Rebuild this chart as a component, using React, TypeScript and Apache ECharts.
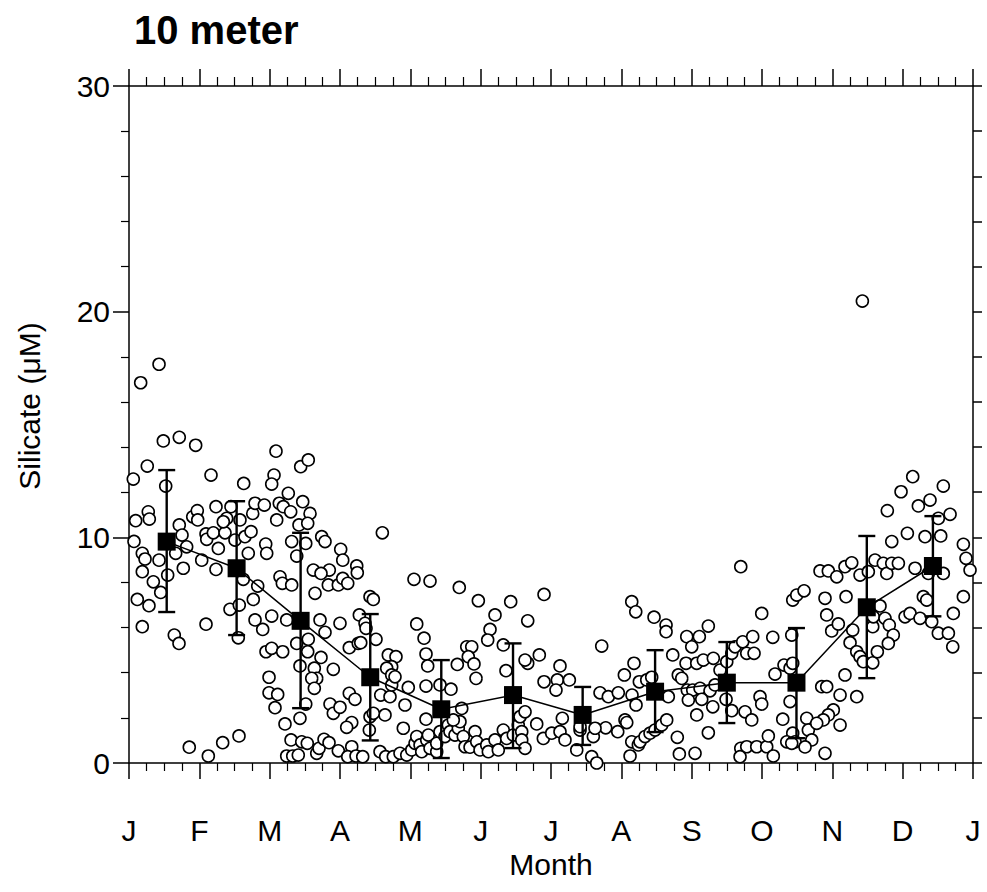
import React, { useEffect, useRef } from "react";
import * as echarts from "echarts";

const FONT = "Liberation Sans, Arial, Helvetica, sans-serif";

const TITLE = "10 meter";
const X_NAME = "Month";
const Y_NAME = "Silicate (\u03bcM)";
const MONTH_LABELS = ["J", "F", "M", "A", "M", "J", "J", "A", "S", "O", "N", "D", "J"];

// Observations: [month (0 = 1 Jan, 12 = end of Dec), silicate µM]
const OBS_JAN_MAR: [number, number][] = [
  [0.166, 16.85], [0.427, 17.67], [0.488, 14.27], [0.715, 14.43], [0.948, 14.08], [0.26, 13.16], [0.061, 12.58], [0.522, 12.27],
  [1.166, 12.76], [1.631, 12.39], [2.09, 13.82], [2.062, 12.76], [2.029, 12.36], [2.441, 13.13], [2.549, 13.43], [0.095, 10.74],
  [0.274, 11.13], [0.289, 10.81], [0.071, 9.82], [0.189, 9.29], [0.228, 9.04], [0.189, 8.48], [0.346, 8.03], [0.451, 7.56],
  [0.118, 7.25], [0.284, 6.97], [0.189, 6.04], [0.427, 8.99], [0.55, 8.33], [0.664, 9.29], [0.715, 10.55], [0.754, 10.1],
  [0.82, 9.58], [0.772, 8.63], [0.906, 10.91], [0.971, 11.18], [0.977, 10.77], [1.034, 8.99], [1.095, 10.15], [1.105, 9.91],
  [1.199, 10.2], [1.237, 11.36], [1.237, 8.58], [1.27, 9.51], [1.365, 10.2], [1.389, 10.84], [1.341, 10.69], [1.45, 11.36],
  [1.507, 9.88], [1.578, 10.77], [1.649, 10.03], [1.735, 10.25], [1.759, 11.06], [1.792, 11.51], [1.924, 11.43], [1.696, 9.29],
  [1.625, 8.14], [1.436, 6.81], [1.568, 7.0], [1.767, 7.25], [1.83, 7.84], [1.792, 6.34], [1.901, 5.92], [2.029, 6.51],
  [1.944, 9.7], [1.958, 9.29], [2.1, 10.77], [2.137, 11.51], [2.194, 11.36], [2.265, 11.95], [2.299, 11.13], [2.47, 11.58],
  [2.574, 11.06], [2.417, 10.55], [2.541, 10.62], [2.313, 9.81], [2.385, 9.17], [2.513, 9.73], [2.147, 8.25], [2.18, 7.96],
  [2.313, 7.89], [2.242, 6.34], [2.621, 8.55], [2.645, 7.52], [2.716, 6.34], [2.74, 10.03], [2.787, 9.81], [2.848, 8.55],
  [2.73, 8.4], [2.834, 7.89], [2.976, 7.89], [0.644, 5.67], [0.711, 5.3], [1.095, 6.15], [1.554, 5.55], [2.787, 5.79],
  [2.385, 5.3], [2.549, 5.48], [2.541, 4.93], [1.948, 4.93], [2.029, 5.08], [2.185, 4.93], [2.431, 4.3], [2.73, 4.68],
  [2.635, 4.2], [2.669, 3.75], [2.598, 3.75], [2.635, 3.31], [2.905, 4.15], [1.991, 3.8], [1.991, 3.11], [2.114, 3.04],
  [2.076, 2.45], [2.513, 2.61], [2.431, 1.98], [2.218, 1.73], [2.858, 2.61], [2.905, 2.2], [0.857, 0.7], [1.128, 0.31],
  [1.332, 0.9], [1.564, 1.2], [2.304, 1.02], [2.456, 0.94], [2.535, 0.87], [2.242, 0.31], [2.328, 0.31], [2.407, 0.35],
  [2.669, 0.43], [2.702, 0.65], [2.773, 1.05], [2.844, 0.9], [2.976, 0.54],
];

const OBS_APR_JUN: [number, number][] = [
  [3.01, 9.47], [3.039, 8.99], [3.039, 8.18], [3.11, 7.96], [3.238, 8.73], [3.246, 8.43], [3.0, 6.19], [3.275, 6.56],
  [3.427, 7.37], [3.356, 6.19], [3.132, 5.11], [3.26, 5.3], [3.0, 2.47], [3.132, 3.09], [3.213, 2.82], [3.167, 1.79],
  [3.095, 1.58], [3.167, 0.72], [3.11, 0.28], [3.228, 0.31], [3.602, 10.2], [4.052, 8.14], [4.28, 8.06], [4.696, 7.78],
  [3.474, 7.25], [4.967, 7.19], [5.427, 7.15], [5.901, 7.47], [3.37, 5.97], [3.295, 5.33], [3.512, 5.48], [4.091, 6.16],
  [4.195, 5.53], [4.223, 4.83], [4.247, 4.3], [5.204, 6.56], [5.133, 5.92], [5.1, 5.45], [5.322, 5.23], [5.669, 6.3],
  [5.834, 4.79], [5.669, 4.42], [5.631, 4.56], [4.802, 5.15], [4.873, 5.15], [4.824, 4.71], [4.905, 4.39], [4.934, 3.75],
  [4.668, 4.37], [5.36, 4.09], [3.687, 4.79], [3.796, 4.71], [3.735, 4.27], [3.664, 4.2], [3.735, 3.9], [3.971, 3.35],
  [3.579, 3.01], [3.711, 2.94], [3.64, 2.13], [3.924, 2.57], [4.223, 3.41], [4.422, 3.46], [4.578, 3.27], [4.731, 2.42],
  [4.223, 1.94], [5.901, 3.6], [5.797, 1.73], [3.323, 0.28], [3.427, 2.05], [3.417, 1.46], [3.474, 2.2], [3.735, 3.46],
  [3.782, 3.82], [3.9, 1.54], [3.569, 0.5], [3.65, 0.28], [3.758, 0.28], [3.853, 0.43], [3.949, 0.35], [4.02, 0.58],
  [4.067, 0.87], [4.091, 1.17], [4.138, 0.8], [4.233, 1.02], [4.256, 1.24], [4.162, 0.5], [4.28, 0.65], [4.375, 0.5],
  [4.375, 0.87], [4.422, 1.39], [4.493, 1.17], [4.54, 1.68], [4.564, 1.39], [4.635, 1.24], [4.682, 1.54], [4.706, 1.83],
  [4.611, 1.91], [4.753, 1.17], [4.778, 0.72], [4.849, 0.7], [4.92, 1.39], [4.944, 0.94], [4.991, 0.58], [5.086, 0.8],
  [5.109, 0.5], [5.204, 1.02], [5.251, 0.58], [5.322, 1.46], [5.37, 1.09], [5.464, 1.24], [5.535, 1.68], [5.584, 1.39],
  [5.584, 1.02], [5.631, 0.65], [5.56, 2.05], [5.631, 2.27], [5.891, 1.09],
];

const OBS_JUL_SEP: [number, number][] = [
  [6.721, 5.18], [7.148, 7.15], [7.205, 6.7], [6.09, 3.68], [6.261, 3.68], [6.128, 4.3], [6.071, 3.23], [6.161, 1.98],
  [6.697, 3.11], [6.815, 2.94], [6.957, 3.11], [7.152, 3.01], [7.043, 3.9], [7.18, 4.42], [6.778, 1.56], [6.949, 1.39],
  [7.052, 1.91], [7.077, 1.79], [6.602, 1.17], [6.366, 0.58], [6.579, 0.28], [6.65, 0.0], [6.413, 1.46], [7.148, 0.94],
  [7.124, 0.31], [7.242, 0.8], [6.01, 1.32], [6.128, 1.39], [6.199, 1.02], [6.413, 1.61], [6.626, 1.54], [7.465, 6.46],
  [7.636, 6.11], [7.636, 5.82], [7.256, 3.6], [7.361, 3.68], [7.432, 3.8], [7.209, 2.57], [7.266, 0.94], [7.337, 1.17],
  [7.408, 1.32], [7.479, 1.46], [7.574, 1.68], [7.645, 1.91], [7.668, 2.94], [7.731, 4.79], [7.81, 3.9], [7.859, 3.75],
  [7.92, 4.42], [8.072, 4.42], [8.166, 4.56], [8.308, 4.64], [7.93, 5.6], [8.001, 5.15], [8.109, 5.6], [8.237, 6.07],
  [7.938, 3.23], [8.015, 3.23], [8.119, 3.31], [8.261, 3.2], [8.332, 3.46], [7.953, 2.79], [8.143, 2.82], [8.3, 2.49],
  [8.072, 2.13], [8.237, 1.34], [7.796, 1.14], [7.825, 0.4], [8.048, 0.43], [8.403, 4.12], [8.499, 4.49], [8.57, 4.86],
  [8.617, 5.15], [8.726, 5.37], [8.783, 4.86], [8.868, 5.6], [8.887, 4.86], [8.489, 2.82], [8.57, 2.32], [8.759, 2.27],
  [8.854, 1.91], [8.972, 2.94], [8.996, 2.61], [8.698, 0.65], [8.783, 0.72], [8.925, 0.72], [8.688, 0.28], [8.996, 6.63],
  [8.698, 8.7],
];

const OBS_OCT_DEC: [number, number][] = [
  [9.067, 0.72], [9.09, 1.2], [9.161, 0.31], [9.153, 5.57], [9.185, 3.94], [9.313, 4.34], [9.399, 4.2], [9.437, 4.42],
  [9.295, 1.94], [9.399, 2.72], [9.437, 1.32], [9.47, 0.94], [9.636, 1.98], [9.659, 1.46], [9.707, 1.02], [9.352, 0.94],
  [9.423, 0.87], [9.437, 7.22], [9.494, 7.44], [9.598, 7.63], [9.423, 5.67], [9.849, 3.38], [9.92, 3.38], [9.896, 0.43],
  [10.11, 3.01], [10.347, 2.94], [10.18, 3.9], [10.11, 1.68], [10.014, 2.35], [9.943, 2.13], [9.872, 1.91], [9.778, 1.76],
  [9.896, 7.3], [9.92, 6.56], [9.991, 5.85], [10.085, 6.16], [10.195, 7.37], [9.825, 8.51], [9.943, 8.51], [10.063, 8.25],
  [10.18, 8.7], [10.276, 8.87], [10.394, 8.33], [10.512, 8.48], [10.607, 8.99], [10.725, 8.85], [10.774, 8.4], [10.845, 8.85],
  [10.939, 8.85], [10.252, 5.33], [10.29, 5.89], [10.347, 4.93], [10.394, 4.71], [10.441, 4.49], [10.575, 4.44], [10.64, 4.93],
  [10.575, 6.04], [10.583, 6.48], [10.678, 6.96], [10.749, 6.41], [10.81, 6.11], [10.867, 5.67], [10.796, 5.3], [10.782, 11.18],
  [10.845, 9.81], [11.067, 10.18], [11.318, 10.03], [11.541, 10.06], [11.223, 11.39], [11.389, 11.65], [11.507, 10.84], [11.674, 11.02],
  [11.176, 8.63], [11.365, 8.4], [11.578, 8.4], [11.294, 7.37], [11.342, 7.22], [11.863, 7.37], [11.72, 6.63], [11.034, 6.48],
  [11.105, 6.63], [11.247, 6.41], [11.413, 6.26], [11.507, 5.75], [11.65, 5.75], [11.712, 5.15], [11.863, 9.69], [11.901, 9.07],
  [11.958, 8.55], [10.427, 20.47], [11.143, 12.69], [10.977, 12.02], [11.578, 12.27], [9.612, 0.71],
];

// Monthly means with error bars
const MEAN_MONTH = [0.536, 1.53, 2.44, 3.43, 4.44, 5.46, 6.45, 7.48, 8.5, 9.49, 10.49, 11.43];
const MEAN_SI = [9.81, 8.63, 6.3, 3.8, 2.38, 3.01, 2.13, 3.16, 3.56, 3.56, 6.9, 8.73];
const ERR_HIGH = [12.98, 11.6, 10.2, 6.6, 4.56, 5.3, 3.37, 5.0, 5.36, 5.98, 10.06, 10.94];
const ERR_LOW = [6.69, 5.67, 2.43, 1.0, 0.22, 0.66, 0.8, 1.37, 1.77, 1.1, 3.76, 6.5];

const X_MIN = 0;
const X_MAX = 12;
const Y_MIN = 0;
const Y_MAX = 30;

export default function App() {
  const ref = useRef<HTMLDivElement>(null);

  useEffect(() => {
    if (!ref.current) return;
    const chart = echarts.init(ref.current, null, { renderer: "svg" });

    const obs = [...OBS_JAN_MAR, ...OBS_APR_JUN, ...OBS_JUL_SEP, ...OBS_OCT_DEC];
    const means = MEAN_MONTH.map((m, i) => [m, MEAN_SI[i]]);
    const errs = MEAN_MONTH.map((m, i) => [m, ERR_LOW[i], ERR_HIGH[i]]);

    const black = "#000";
    const lineW = 1.5;
    const tickStyle = { color: black, width: lineW };

    const option: any = {
      animation: false,
      backgroundColor: "#fff",
      textStyle: { fontFamily: FONT, color: black },
      title: {
        text: TITLE,
        left: 129,
        top: 5,
        textStyle: { fontFamily: FONT, fontSize: 40, fontWeight: "bold", color: black },
      },
      graphic: [
        {
          type: "text",
          x: 29,
          y: 406,
          rotation: Math.PI / 2,
          silent: true,
          style: {
            text: Y_NAME,
            fontSize: 30,
            fontFamily: FONT,
            fill: black,
            align: "center",
            verticalAlign: "middle",
            textAlign: "center",
            textVerticalAlign: "middle",
          },
        },
      ],
      grid: { left: 129, top: 86, width: 844, height: 677, containLabel: false },
      xAxis: [
        {
          type: "value",
          position: "bottom",
          min: X_MIN,
          max: X_MAX,
          interval: 1,
          axisLine: { show: true, onZero: false, lineStyle: tickStyle },
          axisTick: { show: true, inside: false, length: 16, lineStyle: tickStyle },
          minorTick: { show: true, splitNumber: 4, length: 8, lineStyle: { color: black, width: 1.2 } },
          splitLine: { show: false },
          axisLabel: {
            show: true,
            margin: 52,
            fontSize: 30,
            fontFamily: FONT,
            color: black,
            showMinLabel: true,
            showMaxLabel: true,
            formatter: (v: number) => MONTH_LABELS[Math.round(v)] ?? "",
          },
          name: X_NAME,
          nameLocation: "middle",
          nameGap: 80,
          nameTextStyle: { fontSize: 30, fontFamily: FONT, color: black },
        },
        {
          type: "value",
          position: "top",
          min: X_MIN,
          max: X_MAX,
          interval: 1,
          axisLine: { show: true, onZero: false, lineStyle: tickStyle },
          axisTick: { show: true, inside: false, length: 17, lineStyle: tickStyle },
          minorTick: { show: true, splitNumber: 4, length: 9, lineStyle: { color: black, width: 1.2 } },
          splitLine: { show: false },
          axisLabel: { show: false },
        },
      ],
      yAxis: [
        {
          type: "value",
          position: "left",
          min: Y_MIN,
          max: Y_MAX,
          interval: 10,
          axisLine: { show: true, onZero: false, lineStyle: tickStyle },
          axisTick: { show: true, inside: false, length: 16, lineStyle: tickStyle },
          minorTick: { show: true, splitNumber: 5, length: 8, lineStyle: { color: black, width: 1.2 } },
          splitLine: { show: false },
          axisLabel: { show: true, margin: 19, fontSize: 30, fontFamily: FONT, color: black },
        },
        {
          type: "value",
          position: "right",
          min: Y_MIN,
          max: Y_MAX,
          interval: 2,
          axisLine: { show: true, onZero: false, lineStyle: tickStyle },
          axisTick: { show: true, inside: false, length: 9, lineStyle: tickStyle },
          splitLine: { show: false },
          axisLabel: { show: false },
        },
      ],
      series: [
        {
          type: "scatter",
          xAxisIndex: 0,
          yAxisIndex: 0,
          data: obs,
          symbol: "circle",
          symbolSize: 12,
          itemStyle: { color: "#fff", borderColor: black, borderWidth: 1.6, opacity: 1 },
          z: 2,
          silent: true,
        },
        {
          type: "line",
          xAxisIndex: 0,
          yAxisIndex: 0,
          data: means,
          symbol: "none",
          lineStyle: { color: black, width: 1.5 },
          z: 3,
          silent: true,
        },
        {
          type: "custom",
          xAxisIndex: 0,
          yAxisIndex: 0,
          data: errs,
          encode: { x: 0, y: [1, 2] },
          z: 4,
          silent: true,
          renderItem: (_params: any, api: any) => {
            const x = api.value(0);
            const lo = api.coord([x, api.value(1)]);
            const hi = api.coord([x, api.value(2)]);
            const w = 8.5;
            const st = { stroke: black, lineWidth: 2.4 };
            return {
              type: "group",
              children: [
                { type: "line", shape: { x1: hi[0], y1: hi[1], x2: lo[0], y2: lo[1] }, style: st },
                { type: "line", shape: { x1: hi[0] - w, y1: hi[1], x2: hi[0] + w, y2: hi[1] }, style: st },
                { type: "line", shape: { x1: lo[0] - w, y1: lo[1], x2: lo[0] + w, y2: lo[1] }, style: st },
              ],
            };
          },
        },
        {
          type: "scatter",
          xAxisIndex: 0,
          yAxisIndex: 0,
          data: means,
          symbol: "rect",
          symbolSize: 18,
          itemStyle: { color: black, opacity: 1 },
          z: 5,
          silent: true,
        },
      ],
    };

    chart.setOption(option);
    return () => chart.dispose();
  }, []);

  return (
    <div
      ref={ref}
      style={{ position: "fixed", left: 0, top: 0, width: 987, height: 892, background: "#fff" }}
    />
  );
}
